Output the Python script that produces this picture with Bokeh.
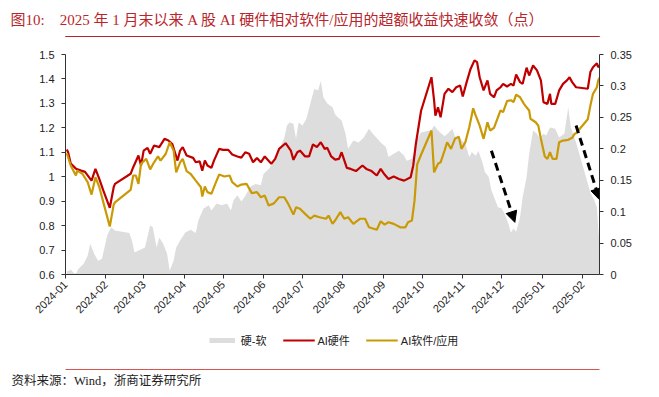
import pandas as pd
from math import pi
from bokeh.plotting import figure
from bokeh.layouts import column
from bokeh.models import (Range1d, LinearAxis, FixedTicker, NumeralTickFormatter,
                          DatetimeTickFormatter, MonthsTicker, Legend, LegendItem,
                          Arrow, NormalHead, ColumnDataSource, Title, CustomJSTickFormatter)
from bokeh.embed import file_html
from bokeh.resources import INLINE

# ---------------- data ----------------
hw_dates = ["2024-01-02", "2024-01-03", "2024-01-05", "2024-01-09", "2024-01-13", "2024-01-16",
            "2024-01-21", "2024-01-24", "2024-01-27", "2024-01-30", "2024-02-04", "2024-02-07",
            "2024-02-08", "2024-02-20", "2024-02-22", "2024-02-26", "2024-02-28", "2024-03-01",
            "2024-03-04", "2024-03-06", "2024-03-09", "2024-03-13", "2024-03-17", "2024-03-20",
            "2024-03-23", "2024-03-25", "2024-03-27", "2024-03-29", "2024-03-31", "2024-04-03",
            "2024-04-08", "2024-04-10", "2024-04-13", "2024-04-15", "2024-04-17", "2024-04-19",
            "2024-04-22", "2024-04-24", "2024-04-28", "2024-05-01", "2024-05-05", "2024-05-08",
            "2024-05-12", "2024-05-15", "2024-05-18", "2024-05-21", "2024-05-24", "2024-05-27",
            "2024-05-30", "2024-06-02", "2024-06-07", "2024-06-10", "2024-06-13", "2024-06-18",
            "2024-06-22", "2024-06-24", "2024-06-27", "2024-06-29", "2024-07-03", "2024-07-06",
            "2024-07-09", "2024-07-12", "2024-07-15", "2024-07-18", "2024-07-20", "2024-07-23",
            "2024-07-26", "2024-07-29", "2024-07-31", "2024-08-04", "2024-08-07", "2024-08-11",
            "2024-08-16", "2024-08-19", "2024-08-23", "2024-08-27", "2024-08-30", "2024-09-02",
            "2024-09-05", "2024-09-09", "2024-09-13", "2024-09-17", "2024-09-22", "2024-09-24",
            "2024-09-26", "2024-09-30", "2024-10-08", "2024-10-10", "2024-10-11", "2024-10-13",
            "2024-10-15", "2024-10-18", "2024-10-21", "2024-10-24", "2024-10-27", "2024-10-30",
            "2024-11-01", "2024-11-04", "2024-11-07", "2024-11-10", "2024-11-12", "2024-11-14",
            "2024-11-17", "2024-11-20", "2024-11-22", "2024-11-25", "2024-11-27", "2024-11-30",
            "2024-12-02", "2024-12-05", "2024-12-08", "2024-12-10", "2024-12-12", "2024-12-15",
            "2024-12-17", "2024-12-20", "2024-12-22", "2024-12-25", "2024-12-28", "2024-12-31",
            "2025-01-02", "2025-01-05", "2025-01-07", "2025-01-08", "2025-01-11", "2025-01-14",
            "2025-01-17", "2025-01-20", "2025-01-22", "2025-01-24", "2025-01-27", "2025-02-05",
            "2025-02-07", "2025-02-09", "2025-02-12", "2025-02-13", "2025-02-14"]
hw_values = [1.111, 1.100, 1.054, 1.033, 1.025, 1.020,
             0.984, 1.032, 0.990, 0.944, 0.873, 0.957,
             0.971, 1.012, 1.039, 1.087, 1.046, 1.107,
             1.118, 1.094, 1.128, 1.121, 1.155, 1.148,
             1.134, 1.100, 1.066, 1.107, 1.121, 1.087,
             1.077, 1.059, 1.063, 1.025, 1.066, 1.046,
             1.036, 1.066, 1.114, 1.110, 1.110, 1.091,
             1.083, 1.078, 1.100, 1.094, 1.059, 1.077,
             1.059, 1.083, 1.053, 1.073, 1.114, 1.137,
             1.107, 1.069, 1.100, 1.107, 1.083, 1.083,
             1.132, 1.121, 1.141, 1.114, 1.118, 1.083,
             1.070, 1.073, 1.100, 1.036, 1.032, 1.023,
             1.046, 1.032, 1.023, 1.005, 1.032, 1.009,
             0.991, 1.001, 0.991, 0.984, 0.998, 1.046,
             1.134, 1.270, 1.407, 1.312, 1.250, 1.284,
             1.243, 1.339, 1.360, 1.346, 1.366, 1.373,
             1.328, 1.387, 1.441, 1.476, 1.469, 1.407,
             1.353, 1.394, 1.339, 1.325, 1.353, 1.366,
             1.380, 1.369, 1.380, 1.373, 1.418, 1.387,
             1.380, 1.446, 1.414, 1.455, 1.435, 1.394,
             1.305, 1.298, 1.339, 1.298, 1.298, 1.353,
             1.380, 1.394, 1.407, 1.387, 1.366, 1.360,
             1.428, 1.448, 1.464, 1.448, 1.455]

sw_dates = ["2024-01-02", "2024-01-05", "2024-01-09", "2024-01-10", "2024-01-14", "2024-01-18",
            "2024-01-21", "2024-01-24", "2024-01-27", "2024-01-30", "2024-02-04", "2024-02-07",
            "2024-02-08", "2024-02-20", "2024-02-22", "2024-02-24", "2024-02-26", "2024-02-28",
            "2024-03-03", "2024-03-06", "2024-03-09", "2024-03-12", "2024-03-14", "2024-03-18",
            "2024-03-21", "2024-03-24", "2024-03-26", "2024-03-29", "2024-03-31", "2024-04-03",
            "2024-04-06", "2024-04-10", "2024-04-14", "2024-04-15", "2024-04-17", "2024-04-19",
            "2024-04-22", "2024-04-25", "2024-04-28", "2024-05-02", "2024-05-06", "2024-05-08",
            "2024-05-12", "2024-05-15", "2024-05-19", "2024-05-23", "2024-05-27", "2024-05-30",
            "2024-06-02", "2024-06-05", "2024-06-09", "2024-06-13", "2024-06-17", "2024-06-20",
            "2024-06-24", "2024-06-26", "2024-06-29", "2024-07-03", "2024-07-07", "2024-07-10",
            "2024-07-14", "2024-07-19", "2024-07-21", "2024-07-24", "2024-07-26", "2024-07-30",
            "2024-08-02", "2024-08-05", "2024-08-09", "2024-08-14", "2024-08-18", "2024-08-21",
            "2024-08-27", "2024-08-30", "2024-09-02", "2024-09-05", "2024-09-09", "2024-09-14",
            "2024-09-18", "2024-09-20", "2024-09-23", "2024-09-25", "2024-09-27", "2024-09-30",
            "2024-10-08", "2024-10-10", "2024-10-13", "2024-10-15", "2024-10-18", "2024-10-20",
            "2024-10-23", "2024-10-26", "2024-10-29", "2024-10-31", "2024-11-03", "2024-11-06",
            "2024-11-09", "2024-11-11", "2024-11-14", "2024-11-17", "2024-11-20", "2024-11-22",
            "2024-11-25", "2024-11-28", "2024-11-30", "2024-12-02", "2024-12-05", "2024-12-08",
            "2024-12-10", "2024-12-12", "2024-12-15", "2024-12-18", "2024-12-20", "2024-12-22",
            "2024-12-23", "2024-12-27", "2024-12-29", "2024-12-31", "2025-01-03", "2025-01-05",
            "2025-01-07", "2025-01-09", "2025-01-12", "2025-01-14", "2025-01-17", "2025-01-21",
            "2025-01-24", "2025-01-26", "2025-01-27", "2025-02-05", "2025-02-07", "2025-02-09",
            "2025-02-12", "2025-02-13", "2025-02-14"]
sw_values = [1.096, 1.046, 1.005, 1.025, 1.012, 0.978,
             0.927, 0.998, 0.957, 0.896, 0.796, 0.886,
             0.895, 0.946, 1.005, 1.005, 0.971, 1.053,
             1.073, 1.030, 1.059, 1.083, 1.066, 1.094,
             1.141, 1.107, 1.018, 1.059, 1.073, 1.023,
             1.012, 0.984, 0.957, 0.919, 0.960, 0.937,
             0.930, 0.971, 1.009, 1.001, 1.005, 0.978,
             0.960, 0.968, 0.971, 0.933, 0.937, 0.916,
             0.923, 0.882, 0.891, 0.916, 0.916, 0.889,
             0.845, 0.875, 0.869, 0.848, 0.828, 0.841,
             0.834, 0.828, 0.841, 0.807, 0.821, 0.855,
             0.828, 0.834, 0.807, 0.828, 0.828, 0.793,
             0.783, 0.818, 0.804, 0.814, 0.807, 0.793,
             0.793, 0.814, 0.821, 0.903, 1.050, 1.090,
             1.189, 1.018, 1.053, 1.059, 1.107, 1.141,
             1.114, 1.155, 1.164, 1.114, 1.141, 1.202,
             1.280, 1.250, 1.209, 1.155, 1.223, 1.189,
             1.200, 1.243, 1.271, 1.264, 1.309, 1.313,
             1.305, 1.336, 1.325, 1.298, 1.284, 1.271,
             1.237, 1.223, 1.209, 1.155, 1.083, 1.073,
             1.100, 1.073, 1.073, 1.141, 1.148, 1.151,
             1.159, 1.176, 1.178, 1.235, 1.291, 1.339,
             1.366, 1.394, 1.405]

gap_dates = ["2024-01-02", "2024-01-03", "2024-01-05", "2024-01-07", "2024-01-09", "2024-01-11",
             "2024-01-15", "2024-01-18", "2024-01-20", "2024-01-23", "2024-01-26", "2024-01-29",
             "2024-02-02", "2024-02-05", "2024-02-08", "2024-02-19", "2024-02-21", "2024-02-23",
             "2024-02-27", "2024-03-02", "2024-03-06", "2024-03-08", "2024-03-11", "2024-03-13",
             "2024-03-16", "2024-03-19", "2024-03-21", "2024-03-24", "2024-03-26", "2024-03-29",
             "2024-04-02", "2024-04-06", "2024-04-10", "2024-04-12", "2024-04-16", "2024-04-20",
             "2024-04-22", "2024-04-26", "2024-04-30", "2024-05-04", "2024-05-07", "2024-05-09",
             "2024-05-12", "2024-05-15", "2024-05-18", "2024-05-22", "2024-05-26", "2024-05-30",
             "2024-06-01", "2024-06-05", "2024-06-09", "2024-06-13", "2024-06-17", "2024-06-19",
             "2024-06-21", "2024-06-24", "2024-06-26", "2024-06-28", "2024-07-01", "2024-07-04",
             "2024-07-07", "2024-07-10", "2024-07-13", "2024-07-15", "2024-07-17", "2024-07-20",
             "2024-07-24", "2024-07-26", "2024-07-28", "2024-07-31", "2024-08-03", "2024-08-05",
             "2024-08-09", "2024-08-13", "2024-08-17", "2024-08-21", "2024-08-24", "2024-08-30",
             "2024-09-03", "2024-09-05", "2024-09-09", "2024-09-13", "2024-09-17", "2024-09-19",
             "2024-09-23", "2024-09-25", "2024-09-27", "2024-09-30", "2024-10-08", "2024-10-10",
             "2024-10-13", "2024-10-18", "2024-10-21", "2024-10-24", "2024-10-26", "2024-10-30",
             "2024-11-03", "2024-11-06", "2024-11-08", "2024-11-11", "2024-11-13", "2024-11-16",
             "2024-11-18", "2024-11-21", "2024-11-23", "2024-11-26", "2024-11-28", "2024-12-01",
             "2024-12-03", "2024-12-06", "2024-12-08", "2024-12-10", "2024-12-12", "2024-12-15",
             "2024-12-17", "2024-12-20", "2024-12-22", "2024-12-25", "2024-12-28", "2024-12-30",
             "2025-01-02", "2025-01-04", "2025-01-07", "2025-01-11", "2025-01-14", "2025-01-18",
             "2025-01-21", "2025-01-23", "2025-01-27", "2025-02-05", "2025-02-07", "2025-02-10",
             "2025-02-12", "2025-02-13", "2025-02-14"]
gap_values = [0.006, 0.005, 0.008, 0.003, 0.001, 0.009,
              0.017, 0.030, 0.049, 0.033, 0.022, 0.025,
              0.062, 0.075, 0.070, 0.066, 0.054, 0.035,
              0.039, 0.043, 0.078, 0.075, 0.043, 0.059,
              0.049, 0.033, 0.006, 0.022, 0.043, 0.054,
              0.067, 0.071, 0.066, 0.086, 0.105, 0.110,
              0.102, 0.113, 0.110, 0.113, 0.102, 0.118,
              0.126, 0.116, 0.125, 0.140, 0.144, 0.142,
              0.160, 0.168, 0.179, 0.197, 0.218, 0.237,
              0.242, 0.240, 0.216, 0.242, 0.237, 0.248,
              0.272, 0.295, 0.293, 0.308, 0.282, 0.272,
              0.266, 0.255, 0.250, 0.245, 0.224, 0.200,
              0.213, 0.210, 0.218, 0.232, 0.224, 0.210,
              0.203, 0.187, 0.192, 0.197, 0.189, 0.181,
              0.184, 0.197, 0.215, 0.226, 0.230, 0.237,
              0.229, 0.220, 0.225, 0.232, 0.220, 0.216,
              0.208, 0.187, 0.195, 0.189, 0.197, 0.179,
              0.163, 0.155, 0.134, 0.118, 0.107, 0.105,
              0.097, 0.081, 0.067, 0.073, 0.068, 0.091,
              0.123, 0.155, 0.192, 0.229, 0.224, 0.217,
              0.224, 0.221, 0.234, 0.232, 0.218, 0.224,
              0.266, 0.234, 0.210, 0.145, 0.130, 0.118,
              0.107, 0.075, 0.050]

series_labels = ["硬-软", "AI硬件", "AI软件/应用"]
left_ticks = [0.6, 0.7, 0.8, 0.9, 1.0, 1.1, 1.2, 1.3, 1.4, 1.5]
right_ticks = [0.0, 0.05, 0.1, 0.15, 0.2, 0.25, 0.3, 0.35]
title_text = "图10:\u00a0\u00a0\u00a0\u00a02025 年 1 月末以来 A 股 AI 硬件相对软件/应用的超额收益快速收敛（点）"
source_text = "资料来源：Wind，浙商证券研究所"
# dashed arrows (start date, start value, end date, end value) on the right axis
arrow_specs = [("2024-11-23", 0.197, "2024-12-11", 0.083),
               ("2025-01-27", 0.237, "2025-02-14", 0.119)]

# ---------------- styling ----------------
W = 653
H_HEAD, H_MAIN, H_FOOT = 44, 280, 71
C_AREA = "#DDDDDD"
C_HW = "#C00000"
C_SW = "#C99A06"
C_TITLE = "#B8262B"
C_RULE2 = "#D9534F"
AX = "#333333"
SANS = "Liberation Sans, Noto Sans CJK SC"
SERIF = "Liberation Serif, Noto Sans CJK SC"


def ms(d):
    return pd.Timestamp(d).value / 1e6


hw_src = ColumnDataSource(dict(x=pd.to_datetime(hw_dates), y=hw_values))
sw_src = ColumnDataSource(dict(x=pd.to_datetime(sw_dates), y=sw_values))
gap_src = ColumnDataSource(dict(x=pd.to_datetime(gap_dates), y=gap_values))

# ---------------- header: title and the red rule (outline of a 1px frame) ----------------
hd = figure(width=W, height=H_HEAD, output_backend="svg", toolbar_location=None,
            x_range=Range1d(0, 1), y_range=Range1d(0, 1),
            x_axis_location=None, y_axis_location=None,
            min_border_left=65, min_border_right=54, min_border_top=35,
            min_border_bottom=H_HEAD - 36)
hd.xgrid.visible = False
hd.ygrid.visible = False
hd.outline_line_color = C_TITLE
hd.outline_line_width = 1
hd.title.text = title_text
hd.title.align = "left"
hd.title.offset = -55
hd.title.vertical_align = "bottom"
hd.title.standoff = 18
hd.title.text_font = SERIF
hd.title.text_font_size = "15px"
hd.title.text_font_style = "normal"
hd.title.text_color = C_TITLE

# ---------------- main chart ----------------
p = figure(width=W, height=H_MAIN, output_backend="svg", toolbar_location=None,
           x_axis_type="datetime",
           x_range=Range1d(ms("2024-01-01"), ms("2025-02-14")),
           y_range=Range1d(0.6, 1.5),
           min_border_left=65, min_border_right=54, min_border_top=54 - H_HEAD,
           min_border_bottom=H_HEAD + H_MAIN - 274)
p.extra_y_ranges = {"right": Range1d(0, 0.35)}
p.outline_line_color = None
p.xgrid.visible = False
p.ygrid.visible = False

p.varea(x="x", y1=0, y2="y", source=gap_src, y_range_name="right",
        fill_color=C_AREA, fill_alpha=1)
p.line(x="x", y="y", source=hw_src, line_color=C_HW, line_width=2.2)
p.line(x="x", y="y", source=sw_src, line_color=C_SW, line_width=2.2)

right_axis = LinearAxis(y_range_name="right")
p.add_layout(right_axis, "right")

for ax in [p.yaxis[0], right_axis]:
    ax.axis_line_color = AX
    ax.major_tick_line_color = AX
    ax.minor_tick_line_color = None
    ax.major_tick_in = 0
    ax.major_tick_out = 4
    ax.major_label_text_font = SANS
    ax.major_label_text_font_size = "11px"
    ax.major_label_text_color = "#222222"
    ax.major_label_standoff = 7

p.yaxis[0].ticker = FixedTicker(ticks=left_ticks)
p.yaxis[0].formatter = NumeralTickFormatter(format="0.[0]")
right_axis.ticker = FixedTicker(ticks=right_ticks)
right_axis.formatter = NumeralTickFormatter(format="0.[00]")

xa = p.xaxis[0]
xa.ticker = MonthsTicker(months=list(range(12)))
fmt = "%Y-%m"
xa.formatter = DatetimeTickFormatter(microseconds=fmt, milliseconds=fmt, seconds=fmt,
                                     minsec=fmt, minutes=fmt, hourmin=fmt, hours=fmt,
                                     days=fmt, months=fmt, years=fmt)
xa.major_label_orientation = pi / 4
xa.axis_line_color = AX
xa.major_tick_line_color = AX
xa.minor_tick_line_color = None
xa.major_tick_in = 0
xa.major_tick_out = 4
xa.major_label_text_font = SANS
xa.major_label_text_font_size = "11px"
xa.major_label_text_color = "#222222"
xa.major_label_standoff = 4

for (d0, v0, d1, v1) in arrow_specs:
    p.add_layout(Arrow(x_start=ms(d0), y_start=v0, x_end=ms(d1), y_end=v1,
                       y_range_name="right", line_color="black", line_width=3,
                       line_dash="8 5",
                       end=NormalHead(size=11, fill_color="black", line_color="black")))

# ---------------- footer: legend, rule, source ----------------
f = figure(width=W, height=H_FOOT, output_backend="svg", toolbar_location=None,
           x_range=Range1d(0, 1), y_range=Range1d(0, 1), y_axis_location=None,
           min_border_left=65, min_border_right=54, min_border_top=0,
           min_border_bottom=H_FOOT - 45)
f.outline_line_color = None
f.xgrid.visible = False
f.ygrid.visible = False
# the same series drawn here (outside this panel's ranges) so the legend has their styles
k_area = f.varea(x="x", y1=0, y2="y", source=gap_src, fill_color=C_AREA, fill_alpha=1)
k_hw = f.line(x="x", y="y", source=hw_src, line_color=C_HW, line_width=2.2)
k_sw = f.line(x="x", y="y", source=sw_src, line_color=C_SW, line_width=2.2)
legend = Legend(items=[LegendItem(label=series_labels[0], renderers=[k_area]),
                       LegendItem(label=series_labels[1], renderers=[k_hw]),
                       LegendItem(label=series_labels[2], renderers=[k_sw])],
                orientation="horizontal", location="top_center",
                glyph_width=32, glyph_height=6, label_height=6,
                label_standoff=3, spacing=16, padding=0, margin=8,
                label_text_font=SANS, label_text_font_size="11px",
                label_text_color="#222222",
                border_line_color=None, background_fill_alpha=0)
f.add_layout(legend)

fx = f.xaxis[0]
fx.ticker = FixedTicker(ticks=[0.5])
fx.formatter = CustomJSTickFormatter(code="return ''")
fx.axis_line_color = C_RULE2
fx.axis_line_width = 1.2
fx.major_tick_line_color = None
fx.minor_tick_line_color = None
fx.major_label_text_font_size = "1px"
fx.major_label_standoff = 0
fx.major_tick_out = 0
fx.major_tick_in = 0

f.add_layout(Title(text=source_text, align="left", offset=-54, standoff=4,
                   text_font=SERIF, text_font_size="12.5px", text_color="#222222",
                   text_font_style="normal"), "below")

layout = column(hd, p, f, spacing=0)
open("out.html", "w").write(file_html(layout, INLINE))
